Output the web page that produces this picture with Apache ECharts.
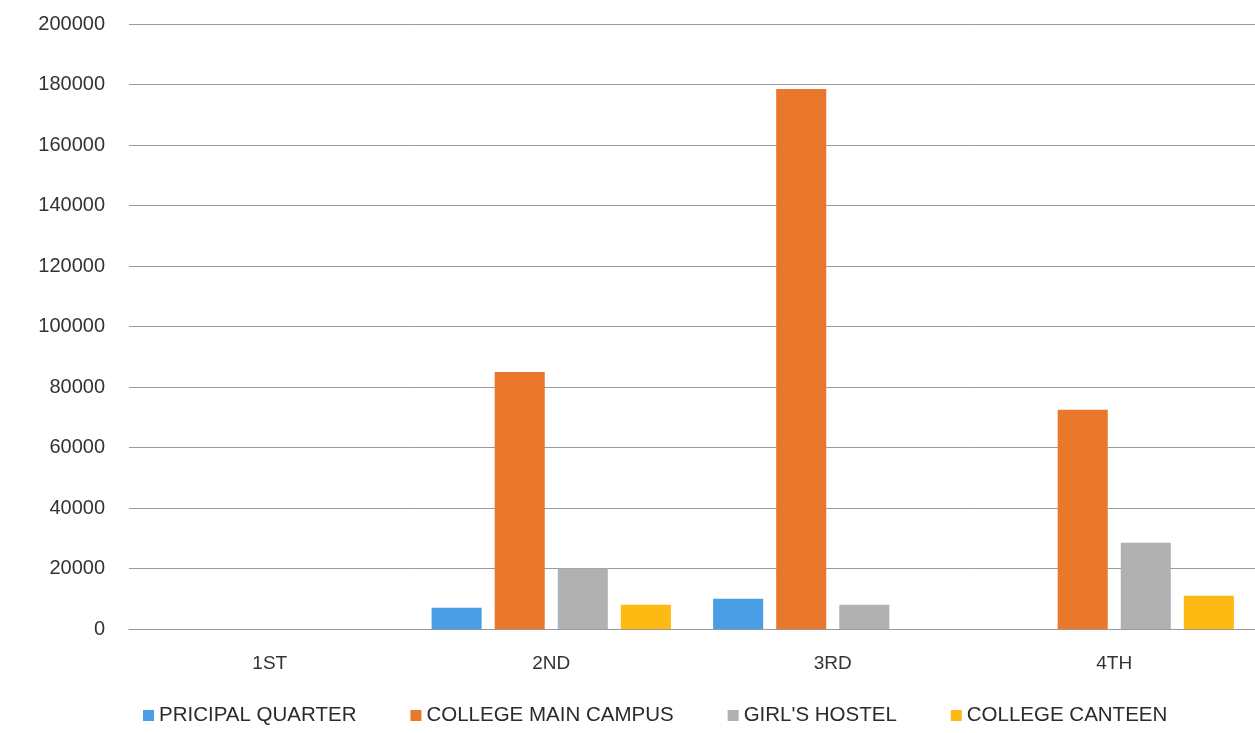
<!DOCTYPE html>
<html>
<head>
<meta charset="utf-8">
<script src="https://cdn.jsdelivr.net/npm/echarts@6/dist/echarts.min.js"></script>
<style>
  html, body { margin: 0; padding: 0; background: #fff; }
  #main { width: 1255px; height: 733px; }
</style>
</head>
<body>
<div id="main"></div>
<script>
var categories = ['1ST', '2ND', '3RD', '4TH'];
var seriesNames = ['PRICIPAL QUARTER', 'COLLEGE MAIN CAMPUS', "GIRL'S HOSTEL", 'COLLEGE CANTEEN'];
var principalQuarter = [0, 7000, 10000, 0];
var mainCampus = [0, 85000, 178500, 72500];
var girlsHostel = [0, 20000, 8000, 28500];
var canteen = [0, 8000, 0, 11000];
var colors = ['#4a9ee6', '#e9772c', '#b1b1b1', '#ffb913'];

var font = '"Liberation Sans", sans-serif';
var chart = echarts.init(document.getElementById('main'));

function bar(name, data) {
  return {
    name: name,
    type: 'bar',
    data: data,
    barGap: '26%',
    barCategoryGap: '15%'
  };
}

var option = {
  color: colors,
  animation: false,
  textStyle: { fontFamily: font },
  grid: { left: 129, right: 0, top: 24, bottom: 104 },
  legend: {
    bottom: 2,
    left: 138,
    itemWidth: 11,
    itemHeight: 11,
    itemGap: 54,
    icon: 'rect',
    textStyle: { fontSize: 20.5, color: '#2b2b2b', fontFamily: font },
    data: seriesNames
  },
  xAxis: {
    type: 'category',
    data: categories,
    axisTick: { show: false },
    axisLine: { lineStyle: { color: '#9a9a9a' } },
    axisLabel: { fontSize: 19, color: '#333', margin: 25 }
  },
  yAxis: {
    type: 'value',
    min: 0,
    max: 200000,
    interval: 20000,
    axisLine: { show: false },
    axisTick: { show: false },
    axisLabel: {
      fontSize: 20, color: '#333', margin: 24,
      formatter: function (v) { return String(v); }
    },
    splitLine: { lineStyle: { color: '#9a9a9a', width: 1 } }
  },
  series: [
    bar(seriesNames[0], principalQuarter),
    bar(seriesNames[1], mainCampus),
    bar(seriesNames[2], girlsHostel),
    bar(seriesNames[3], canteen)
  ]
};
chart.setOption(option);
</script>
</body>
</html>
